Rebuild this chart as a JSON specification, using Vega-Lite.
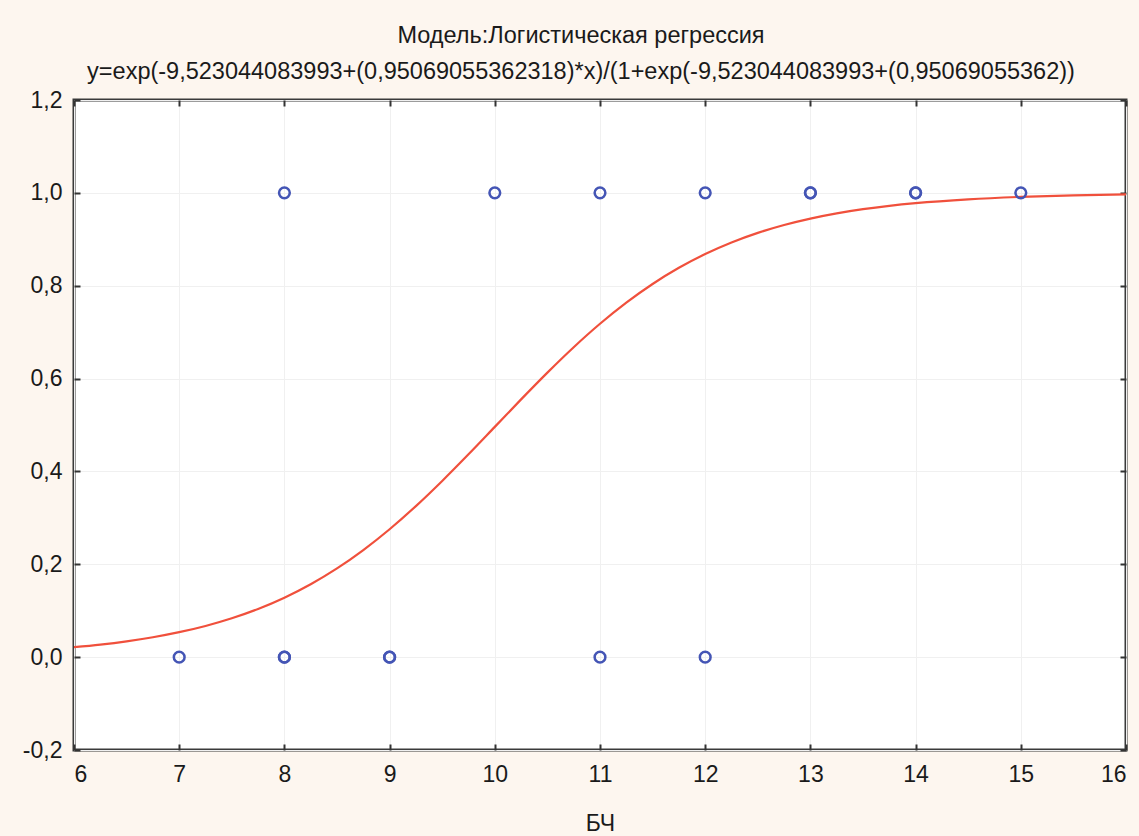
{
  "$schema": "https://vega.github.io/schema/vega-lite/v6.json",
  "autosize": "none",
  "width": 1052,
  "height": 650,
  "padding": {"left": 74, "top": 100, "right": 13, "bottom": 86},
  "background": "#fdf6ef",
  "config": {
    "locale": {"number": {"decimal": ",", "thousands": " ", "grouping": [3], "currency": ["", ""], "minus": "-"}},
    "font": "Liberation Sans",
    "view": {"fill": "#ffffff", "stroke": "#3a3a3a", "strokeWidth": 3},
    "axis": {
      "domain": false,
      "labelFont": "Liberation Sans",
      "labelFontSize": 23,
      "labelColor": "#1a1a1a",
      "titleFont": "Liberation Sans",
      "titleFontSize": 23,
      "titleFontWeight": "normal",
      "titleColor": "#1a1a1a",
      "tickColor": "#333333",
      "tickWidth": 2,
      "gridColor": "#f0f0f0",
      "gridWidth": 1
    }
  },
  "title": {
    "text": ["Модель:Логистическая регрессия", "y=exp(-9,523044083993+(0,95069055362318)*x)/(1+exp(-9,523044083993+(0,95069055362))"],
    "font": "Liberation Sans",
    "fontSize": 23.5,
    "fontWeight": "normal",
    "color": "#1a1a1a",
    "lineHeight": 36,
    "offset": 6,
    "anchor": "middle",
    "frame": "group",
    "dx": -19
  },
  "datasets": {
    "curve": [
      {"x": 6.0, "p": 0.02149}, {"x": 6.25, "p": 0.02709}, {"x": 6.5, "p": 0.03411}, {"x": 6.75, "p": 0.04286},
      {"x": 7.0, "p": 0.05375}, {"x": 7.25, "p": 0.0672}, {"x": 7.5, "p": 0.08372}, {"x": 7.75, "p": 0.10384},
      {"x": 8.0, "p": 0.12814}, {"x": 8.25, "p": 0.15711}, {"x": 8.5, "p": 0.1912}, {"x": 8.75, "p": 0.23068},
      {"x": 9.0, "p": 0.27552}, {"x": 9.25, "p": 0.32539}, {"x": 9.5, "p": 0.37957}, {"x": 9.75, "p": 0.4369},
      {"x": 10.0, "p": 0.49597}, {"x": 10.25, "p": 0.55518}, {"x": 10.5, "p": 0.61285}, {"x": 10.75, "p": 0.66751},
      {"x": 11.0, "p": 0.71801}, {"x": 11.25, "p": 0.76356}, {"x": 11.5, "p": 0.80377}, {"x": 11.75, "p": 0.83855},
      {"x": 12.0, "p": 0.86821}, {"x": 12.25, "p": 0.89312}, {"x": 12.5, "p": 0.91378}, {"x": 12.75, "p": 0.93075},
      {"x": 13.0, "p": 0.9446}, {"x": 13.25, "p": 0.95579}, {"x": 13.5, "p": 0.96481}, {"x": 13.75, "p": 0.97204},
      {"x": 14.0, "p": 0.97783}, {"x": 14.5, "p": 0.9861}, {"x": 15.0, "p": 0.99132}, {"x": 15.5, "p": 0.99458},
      {"x": 16.0, "p": 0.99663}
    ],
    "obs": [
      {"x": 7, "y": 0}, {"x": 8, "y": 0}, {"x": 8, "y": 0}, {"x": 8, "y": 1}, {"x": 9, "y": 0}, {"x": 9, "y": 0},
      {"x": 10, "y": 1}, {"x": 11, "y": 0}, {"x": 11, "y": 1}, {"x": 12, "y": 0}, {"x": 12, "y": 1},
      {"x": 13, "y": 1}, {"x": 13, "y": 1}, {"x": 14, "y": 1}, {"x": 14, "y": 1}, {"x": 15, "y": 1}
    ]
  },
  "layer": [
    {
      "data": {"name": "curve"},
      "mark": {"type": "line", "color": "#f0503c", "strokeWidth": 2.2, "interpolate": "monotone", "clip": true},
      "encoding": {
        "x": {
          "field": "x", "type": "quantitative",
          "scale": {"domain": [6, 16], "nice": false, "zero": false},
          "axis": {"orient": "bottom", "title": "БЧ", "values": [6, 7, 8, 9, 10, 11, 12, 13, 14, 15, 16], "format": "d",
                   "tickSize": -6, "labelPadding": 19, "titlePadding": 26, "grid": true}
        },
        "y": {
          "field": "p", "type": "quantitative",
          "scale": {"domain": [-0.2, 1.2], "nice": false, "zero": false},
          "axis": {"orient": "left", "title": null, "values": [-0.2, 0, 0.2, 0.4, 0.6, 0.8, 1.0, 1.2], "format": ".1f",
                   "tickSize": -6, "labelPadding": 18, "grid": true}
        }
      }
    },
    {
      "data": {"name": "obs"},
      "mark": {"type": "point", "shape": "circle", "filled": false, "color": "#4455b5", "strokeWidth": 2.5, "size": 115, "opacity": 1},
      "encoding": {
        "x": {
          "field": "x", "type": "quantitative",
          "axis": {"orient": "top", "title": null, "labels": false, "values": [6, 7, 8, 9, 10, 11, 12, 13, 14, 15, 16],
                   "tickSize": -6, "grid": false}
        },
        "y": {
          "field": "y", "type": "quantitative",
          "axis": {"orient": "right", "title": null, "labels": false, "values": [-0.2, 0, 0.2, 0.4, 0.6, 0.8, 1.0, 1.2],
                   "tickSize": -6, "grid": false}
        }
      }
    }
  ],
  "resolve": {"axis": {"x": "independent", "y": "independent"}}
}
